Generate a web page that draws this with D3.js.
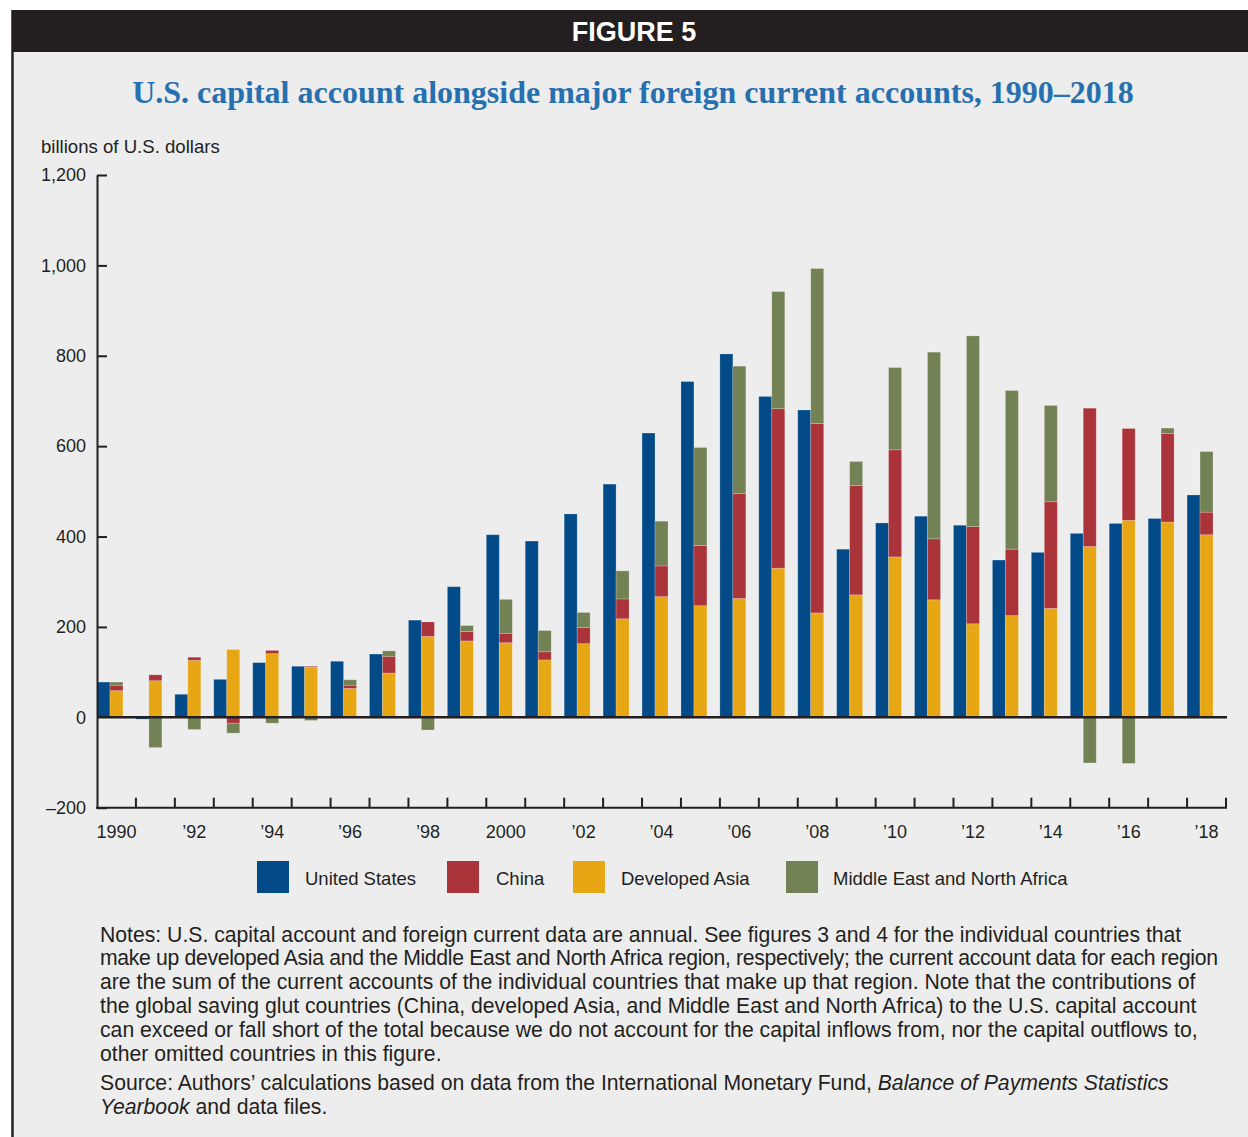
<!DOCTYPE html>
<html><head><meta charset="utf-8">
<script src="https://cdn.jsdelivr.net/npm/d3@7"></script>
<style>
body{margin:0;background:#fff;}
svg{display:block;}
</style>
</head><body>
<svg id="c" width="1248" height="1137"></svg>
<script>
// ---- data ----
const years = [1990,1991,1992,1993,1994,1995,1996,1997,1998,1999,2000,2001,2002,2003,2004,2005,2006,2007,2008,2009,2010,2011,2012,2013,2014,2015,2016,2017,2018];
const unitedStates = [78,-4,51,84,121,113,124,140,215,289,404,390,450,516,629,743,804,710,680,372,430,445,425,348,365,407,429,440,492];
const developedAsia = [59,81,126,150,141,111,64,98,179,169,165,127,163,218,267,247,263,330,231,271,355,260,207,225,241,378,436,432,404];
const china = [12,13,7,-13,7,2,7,37,32,21,21,18,36,44,68,133,232,353,419,242,237,135,215,147,236,306,203,196,50];
const menaRegion = [7,-67,-27,-22,-13,-7,12,12,-28,13,75,47,33,62,99,217,282,259,343,53,182,413,422,351,213,-101,-102,12,134];
const yTicks = [-200,0,200,400,600,800,1000,1200];
const xLabelYears = [1990,1992,1994,1996,1998,2000,2002,2004,2006,2008,2010,2012,2014,2016,2018];
const seriesNames = ["United States","China","Developed Asia","Middle East and North Africa"];
const seriesColors = ["#034b88","#ab333a","#e7a614","#738254"];
const notesLines = [
  "Notes: U.S. capital account and foreign current data are annual. See figures 3 and 4 for the individual countries that",
  "make up developed Asia and the Middle East and North Africa region, respectively; the current account data for each region",
  "are the sum of the current accounts of the individual countries that make up that region. Note that the contributions of",
  "the global saving glut countries (China, developed Asia, and Middle East and North Africa) to the U.S. capital account",
  "can exceed or fall short of the total because we do not account for the capital inflows from, nor the capital outflows to,",
  "other omitted countries in this figure."
];

const ink = "#231f20";
const svg = d3.select("#c");

// frame
svg.append("rect").attr("x",12).attr("y",10).attr("width",1236).attr("height",1127).attr("fill","#ededed");
svg.append("rect").attr("x",12).attr("y",10).attr("width",1236).attr("height",42).attr("fill",ink);
svg.append("line").attr("x1",12.5).attr("x2",12.5).attr("y1",10).attr("y2",1137).attr("stroke",ink).attr("stroke-width",2.5);
svg.append("text").attr("x",634).attr("y",41).attr("text-anchor","middle")
  .attr("font-family","'Liberation Sans',Arial,sans-serif").attr("font-weight","bold")
  .attr("font-size",27).attr("fill","#fff").text("FIGURE 5");

// title
svg.append("text").attr("x",633).attr("y",103).attr("text-anchor","middle")
  .attr("font-family","'Liberation Serif','Times New Roman',serif").attr("font-weight","bold")
  .attr("font-size",32).attr("fill","#2770af")
  .text("U.S. capital account alongside major foreign current accounts, 1990\u20132018");

svg.append("text").attr("x",41).attr("y",153)
  .attr("font-family","'Liberation Sans',Arial,sans-serif").attr("font-size",18.6).attr("fill",ink)
  .text("billions of U.S. dollars");

// scales
const x = d3.scaleBand().domain(years).range([97,1226]).paddingInner(0).paddingOuter(0);
const y = d3.scaleLinear().domain([-200,1200]).range([807.7,175]);
const bw = x.bandwidth();
const barW = bw/3;

const rows = years.map((yr,i)=>({year:yr, us:unitedStates[i], devAsia:developedAsia[i], china:china[i], mena:menaRegion[i]}));
const stack = d3.stack().keys(["devAsia","china","mena"]).offset(d3.stackOffsetDiverging);
const stacked = stack(rows);
const stackColors = {devAsia:seriesColors[2], china:seriesColors[1], mena:seriesColors[3]};

const plot = svg.append("g");
// US bars
plot.selectAll("rect.us").data(rows).join("rect").attr("class","us")
  .attr("x",d=>x(d.year)).attr("width",barW)
  .attr("y",d=>y(Math.max(0,d.us))).attr("height",d=>Math.abs(y(d.us)-y(0)))
  .attr("fill",seriesColors[0]).attr("stroke","rgba(255,255,255,0.25)").attr("stroke-width",0.8);
// stacked foreign bars
plot.selectAll("g.s").data(stacked).join("g").attr("class","s")
  .attr("fill",d=>stackColors[d.key])
  .selectAll("rect").data(d=>d).join("rect")
  .attr("x",d=>x(d.data.year)+barW).attr("width",barW)
  .attr("y",d=>y(Math.max(d[0],d[1]))).attr("height",d=>Math.abs(y(d[0])-y(d[1])))
  .attr("stroke","rgba(255,255,255,0.25)").attr("stroke-width",0.8);

// zero line
svg.append("line").attr("x1",97).attr("x2",1227).attr("y1",y(0)).attr("y2",y(0))
  .attr("stroke",ink).attr("stroke-width",2.5);

// y axis
const yAxis = d3.axisLeft(y).tickValues(yTicks).tickSizeInner(-10).tickSizeOuter(0).tickPadding(11)
  .tickFormat(d=> d<0 ? "\u2013"+d3.format(",")(-d) : d3.format(",")(d));
const gy = svg.append("g").attr("transform","translate(97,0)").call(yAxis);
gy.select(".domain").attr("stroke",ink).attr("stroke-width",2);
gy.selectAll(".tick line").attr("stroke",ink).attr("stroke-width",2);
gy.selectAll(".tick text").attr("font-family","'Liberation Sans',Arial,sans-serif").attr("font-size",18).attr("fill",ink);
gy.selectAll(".tick").filter(d=>d===0).select("line").remove();

// x axis: labels at band centers, ticks at band boundaries
const xAxis = d3.axisBottom(x).tickValues(xLabelYears).tickSize(0).tickPadding(18)
  .tickFormat(d=> d===1990||d===2000 ? String(d) : "\u2019"+String(d).slice(2));
const gx = svg.append("g").attr("transform",`translate(0,${y(-200)})`).call(xAxis);
gx.select(".domain").remove();
gx.selectAll(".tick text").attr("font-family","'Liberation Sans',Arial,sans-serif").attr("font-size",18).attr("fill",ink);
svg.append("line").attr("x1",96).attr("x2",1227).attr("y1",y(-200)).attr("y2",y(-200)).attr("stroke",ink).attr("stroke-width",2);
svg.append("g").selectAll("line").data(years).join("line")
  .attr("x1",d=>x(d)+bw).attr("x2",d=>x(d)+bw)
  .attr("y1",y(-200)).attr("y2",y(-200)-10).attr("stroke",ink).attr("stroke-width",2);

// legend
const legX = [257,447,573,786];
const legTX = [305,496,621,833];
const lg = svg.append("g");
seriesNames.forEach((n,i)=>{
  lg.append("rect").attr("x",legX[i]).attr("y",861).attr("width",32).attr("height",32).attr("fill",seriesColors[i]);
  lg.append("text").attr("x",legTX[i]).attr("y",885)
    .attr("font-family","'Liberation Sans',Arial,sans-serif").attr("font-size",18.5).attr("fill",ink).text(n);
});

// notes
const ng = svg.append("g").attr("font-family","'Liberation Sans',Arial,sans-serif").attr("font-size",21.2).attr("fill",ink);
notesLines.forEach((t,i)=>{
  const tx = ng.append("text").attr("x",100).attr("y",941.5+i*23.9).text(t);
  if (i===1) tx.attr("textLength",1118).attr("lengthAdjust","spacing");
});
const s1 = ng.append("text").attr("x",100).attr("y",1090);
s1.append("tspan").text("Source: Authors\u2019 calculations based on data from the International Monetary Fund, ");
s1.append("tspan").attr("font-style","italic").text("Balance of Payments Statistics");
const s2 = ng.append("text").attr("x",100).attr("y",1114);
s2.append("tspan").attr("font-style","italic").text("Yearbook");
s2.append("tspan").text(" and data files.");
</script>
</body></html>
